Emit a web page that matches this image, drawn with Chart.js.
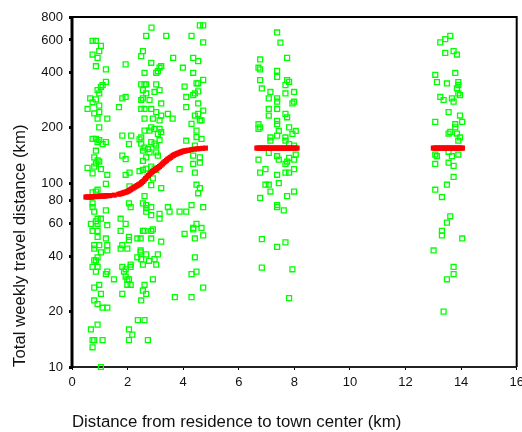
<!DOCTYPE html>
<html>
<head>
<meta charset="utf-8">
<script src="https://cdn.jsdelivr.net/npm/chart.js@4.4.1/dist/chart.umd.min.js"></script>
<style>
html,body{margin:0;padding:0;background:#fff;}
canvas{display:block;}
</style>
</head>
<body>
<canvas id="c" width="522" height="432"></canvas>
<script>
// ---- data ----
const xTicks = [0, 2, 4, 6, 8, 10, 12, 14, 16];
const yTicks = [10, 20, 40, 60, 80, 100, 200, 400, 600, 800];
const xTitle = "Distance from residence to town center (km)";
const yTitle = "Total weekly travel distance (km)";

// observed (green) points: distance from center (km)
const obsX = [
  0.74,0.86,1.04,0.98,0.74,0.92,0.86,1.22,0.655,0.56,0.74,0.86,0.92,1.04,0.98,1.10,1.22,0.98,0.80,0.98,
  0.92,1.27,0.98,0.74,0.86,0.98,1.10,1.22,0.92,0.86,0.80,0.92,0.86,0.98,0.80,0.56,0.74,1.04,1.27,1.22,
  0.86,0.74,0.92,0.74,0.74,0.80,1.22,0.68,0.86,0.92,1.04,0.92,1.27,0.74,0.92,0.92,1.22,1.27,1.27,0.80,
  0.80,0.98,1.04,0.92,0.80,0.86,0.74,0.92,0.86,1.22,1.27,1.51,0.80,0.98,1.04,0.80,0.92,1.10,1.27,0.92,
  0.68,0.74,0.80,1.10,0.74,1.04,
  2.67,3.39,2.55,2.49,2.85,1.93,3.21,3.15,2.61,3.03,3.09,2.49,2.61,2.67,3.03,2.55,2.67,2.97,3.15,1.81,
  1.93,2.49,2.55,2.79,3.21,1.69,2.49,2.61,2.85,3.03,3.21,3.45,3.62,2.61,2.91,3.15,2.85,2.79,2.61,2.97,
  3.15,3.21,3.09,1.81,2.13,2.43,2.49,2.85,2.97,3.15,3.03,2.05,2.49,2.61,2.55,2.73,2.79,3.03,3.09,2.67,
  2.55,1.81,1.93,2.55,2.67,2.85,2.97,3.03,2.07,1.93,2.43,2.91,2.85,3.21,2.61,2.07,2.86,
  2.05,2.11,2.55,2.67,2.67,2.85,2.67,2.85,3.15,3.15,3.45,3.51,1.75,1.93,1.75,2.55,2.61,2.85,2.91,2.05,
  2.05,2.35,2.47,2.85,3.21,1.81,1.99,1.75,2.47,2.47,2.67,3.09,2.35,2.49,2.77,2.97,2.55,3.03,2.11,2.11,
  1.81,1.93,1.87,1.93,1.99,2.05,1.99,2.11,2.91,2.61,2.55,2.67,1.81,2.49,2.37,2.61,2.05,2.17,2.05,2.73,
  4.30,4.72,3.64,4.36,4.54,3.99,4.36,4.72,4.54,4.48,4.05,4.54,4.42,4.36,4.11,4.54,4.11,4.72,4.54,4.42,
  4.66,4.60,4.30,4.48,4.48,4.66,4.11,4.42,4.36,4.60,4.60,4.36,3.87,4.42,4.48,4.60,4.54,4.60,4.72,
  3.87,4.11,4.30,4.72,4.48,4.36,4.36,4.66,4.05,4.72,4.42,4.42,4.48,4.30,4.72,3.70,4.30,
  7.38,7.50,7.74,6.77,6.71,6.77,7.38,7.38,6.77,7.74,7.81,7.68,6.83,7.14,7.68,7.99,7.08,7.38,7.38,7.99,
  7.93,7.08,7.38,7.08,7.68,7.74,7.38,7.38,6.71,6.71,6.77,7.81,7.44,8.05,7.38,7.14,7.14,7.68,7.68,7.93,
  7.81,7.99,7.08,7.38,7.44,6.71,7.81,7.74,7.99,8.05,7.68,6.96,6.77,7.38,7.68,7.81,7.99,6.96,7.08,7.44,
  7.14,7.99,6.77,7.74,7.38,7.38,7.62,6.83,7.68,7.38,6.83,7.93,7.81,
  13.61,13.43,13.25,13.43,13.73,13.85,13.07,13.79,13.13,13.49,13.90,13.90,13.85,13.90,13.96,13.25,13.37,13.67,13.73,13.55,
  13.96,13.07,14.04,13.79,13.79,13.55,13.61,13.85,13.96,13.90,13.07,13.13,13.55,13.90,13.67,13.55,13.73,13.07,13.73,13.49,
  13.07,13.31,13.61,13.49,13.31,13.31,14.04,13.01,13.73,13.73,13.49,13.37
];
// observed (green) points: total weekly travel distance (km)
const obsY = [
  594,594,557,522,500,480,432,415,289,253,275,285,320,334,307,341,355,264,239,243,
  224,224,201,174,174,171,163,167,167,150,138,133,128,131,123,121,113,119,111,99,
  90,89,92,77.5,74,70,71,60,62,64,64,60,59,55,55,51,50,46,43,46,
  44,46,42,39.5,38,38,35,35,33,32,33,30,27,28,25,23,22,21,21,17,
  16,14,14,14,12.8,10,
  632,632,522,490,451,442,432,424,398,398,406,344,344,344,344,320,307,313,320,289,
  294,283,289,283,271,259,253,253,253,243,233,238,224,224,224,219,201,193,193,197,
  197,189,185,181,181,173,177,167,164,171,160,163,164,156,150,153,147,147,141,138,
  132,141,135,118,120,123,120,118,114,111,116,106,97.5,94,85,96,700,
  77.5,74,77.5,76,73,74,70,67,68,64,74,70,64,60,55,55,55,55,56,51,
  49,50,50,50,48,46,44,44,43,42,41,41,39.5,38.6,37.8,38.6,36,36,36,35,
  35,34,33,31,30,30,28,28,30,28,26,25,25,23,18,18,16,15,14,14,
  632,582,480,480,460,424,398,364,349,349,335,315,307,301,294,271,259,248,238,233,
  219,219,210,193,178,174,170,160,141,138,129,127,119,114,98,94,88,720,720,
  70,70,76,74,60,57,56,57,53,52,50,39.5,33,32,27,24,24,
  659,580,480,470,424,415,408,378,363,363,355,341,327,313,307,313,289,289,277,277,
  271,253,253,233,238,228,218,209,209,197,201,201,192,192,181,177,170,177,170,185,
  163,160,146,140,134,134,137,131,134,143,127,119,114,111,114,114,119,98,98,100,
  90,90,83,85,76,74,71,49.6,47.6,45,34.7,34,23.7,
  632,607,582,511,522,500,388,397,354,348,354,341,327,307,301,294,283,289,277,243,
  233,215,215,209,201,186,190,186,177,170,143,140,148,143,140,129,124,127,108,98,
  92,84,66,61,55,52,50,43,35,32,30,20
];

// fitted (red) points
const fitX = [
  0.50,0.55,0.60,0.65,0.70,0.75,0.80,0.85,0.90,0.95,1.00,1.05,1.10,1.15,1.20,1.25,1.30,1.35,1.52,
  1.68,1.75,1.80,1.85,1.90,1.95,2.00,2.05,2.10,2.15,2.20,2.25,2.30,2.35,2.40,2.45,2.50,2.55,2.60,2.65,
  2.70,2.75,2.80,2.85,2.90,2.95,3.00,3.05,3.10,3.15,3.20,3.25,3.30,3.35,3.40,3.45,3.50,3.55,3.60,3.65,
  3.70,3.75,3.80,3.85,3.90,3.95,4.00,4.05,4.10,4.15,4.20,4.30,4.40,4.50,4.60,4.70,4.80,
  6.65,6.70,6.75,6.80,6.85,6.90,6.95,7.00,7.05,7.10,7.15,7.20,7.25,7.30,7.35,7.40,7.45,7.50,7.55,7.60,
  7.65,7.70,7.75,7.80,7.85,7.90,7.95,8.00,8.05,8.10,
  13.00,13.05,13.10,13.15,13.20,13.25,13.30,13.35,13.40,13.45,13.50,13.55,13.60,13.65,13.70,13.75,13.80,13.85,13.90,13.95,
  14.00,14.05
];
const fitY = [
  84,84,84,84,84,84,84.5,84.5,84.5,84.5,85,85,85,85,85,85.5,85.5,85.5,86,
  87,87.5,88,88.5,89,89.5,90,91,92,93,94,95,96,97,98,99,100.5,102,104,106,
  108,110,112,114,115.5,117,118.5,120,121.5,123,125,127,129,131,133,135,136.5,138,140,141.5,
  143,144,145,146,147,148,149,149.5,150,150.5,151,152,153,153.5,154,154.5,155,
  155,155,155,155,155,155,155,155,155,155,155,155,155,155,155,155,155,155,155,155,
  155,155,155,155,155,155,155,155,155,155,
  155,155,155,155,155,155,155,155,155,155,155,155,155,155,155,155,155,155,155,155,
  155,155
];

const toPts = (xs, ys) => xs.map((x, i) => ({x: x, y: ys[i]}));

const FONT = "'Liberation Sans', Arial, Helvetica, sans-serif";

const framePlugin = {
  id: 'frame',
  beforeDatasetsDraw(chart) {
    const {ctx, chartArea: a} = chart;
    ctx.save();
    ctx.strokeStyle = '#000';
    ctx.lineWidth = 2;
    ctx.beginPath();
    ctx.moveTo(a.left, a.top);
    ctx.lineTo(a.right, a.top);
    ctx.lineTo(a.right, a.bottom);
    ctx.stroke();
    ctx.strokeStyle = '#222';
    ctx.beginPath();
    ctx.moveTo(a.left, a.bottom);
    ctx.lineTo(a.right, a.bottom);
    ctx.stroke();
    ctx.strokeStyle = '#000';
    ctx.lineWidth = 3;
    ctx.beginPath();
    ctx.moveTo(a.left, a.top - 1);
    ctx.lineTo(a.left, a.bottom + 1);
    ctx.stroke();
    ctx.restore();
  }
};

new Chart(document.getElementById('c'), {
  type: 'scatter',
  data: {
    datasets: [
      {
        label: 'fitted',
        data: toPts(fitX, fitY),
        pointStyle: 'rect',
        pointRadius: 3.6,
        pointBackgroundColor: '#ff0000',
        pointBorderColor: '#ff0000',
        pointBorderWidth: 0,
        showLine: false,
        clip: false
      },
      {
        label: 'observed',
        data: toPts(obsX, obsY),
        pointStyle: 'rect',
        pointRadius: 3.5,
        pointBackgroundColor: 'rgba(255,255,255,0)',
        pointBorderColor: '#00ff00',
        pointBorderWidth: 1.3,
        showLine: false,
        clip: false
      }
    ]
  },
  options: {
    responsive: false,
    animation: false,
    devicePixelRatio: 1,
    layout: {padding: {left: 0, right: 4, top: 17, bottom: 0}},
    plugins: {legend: {display: false}, tooltip: {enabled: false}},
    scales: {
      x: {
        type: 'linear',
        min: 0, max: 16,
        afterBuildTicks: (s) => { s.ticks = xTicks.map(v => ({value: v})); },
        afterFit: (s) => { s.height = 65; s.paddingRight = 0; s.paddingLeft = 0; },
        border: {display: false},
        grid: {drawOnChartArea: false, drawTicks: true, tickLength: 3, tickWidth: 1, tickColor: '#000'},
        ticks: {color: '#111', padding: 5, font: {family: FONT, size: 13}, maxRotation: 0, autoSkip: false,
                callback: (v) => String(v)},
        title: {display: true, text: xTitle, align: 'start', color: '#111',
                font: {family: FONT, size: 16.8}, padding: {top: 0, bottom: 0}}
      },
      y: {
        type: 'logarithmic',
        min: 10, max: 800,
        afterBuildTicks: (s) => { s.ticks = yTicks.map(v => ({value: v})); },
        afterFit: (s) => { s.width = 72; },
        border: {display: false},
        grid: {drawOnChartArea: false, drawTicks: true, tickLength: 3, tickWidth: 3, tickColor: '#000'},
        ticks: {color: '#111', padding: 6, font: {family: FONT, size: 13}, autoSkip: false,
                callback: (v) => String(v)},
        title: {display: true, text: yTitle, align: 'start', color: '#111',
                font: {family: FONT, size: 16.8}, padding: {top: 10, bottom: 0}}
      }
    }
  },
  plugins: [framePlugin]
});
</script>
</body>
</html>
